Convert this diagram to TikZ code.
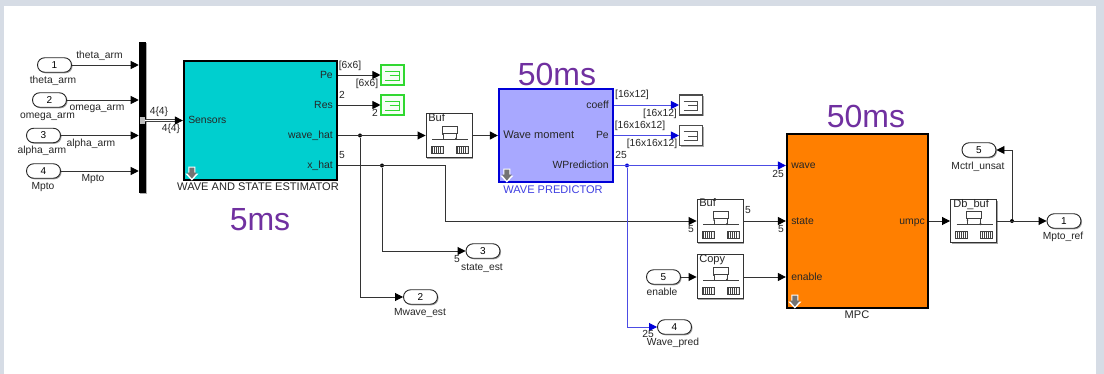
\documentclass[tikz,border=0pt]{standalone}
\usepackage{fontspec}
\setmainfont{Liberation Sans}
\usepackage{xcolor}
\usetikzlibrary{arrows.meta,calc,shadows}
\definecolor{pagegrey}{HTML}{D6DCE5}
\definecolor{estcyan}{HTML}{00CFCF}
\definecolor{predblue}{HTML}{A8A8FF}
\definecolor{mpcorange}{HTML}{FF7F00}
\definecolor{wireblue}{HTML}{0000D8}
\definecolor{scopegreen}{HTML}{30D830}
\definecolor{ratepurple}{HTML}{7030A0}
\def\px{0.75pt}
\tikzset{
  sig/.style={draw=black!80,line width=0.7pt,-{Triangle[length=6pt,width=6pt,black]}},
  wire/.style={draw=black!80,line width=0.7pt},
  bluesig/.style={draw=wireblue!70,line width=0.7pt,-{Triangle[length=6pt,width=6pt,wireblue]}},
  dotnode/.style={circle,fill=black,inner sep=0pt,minimum size=3pt},
  bluedot/.style={circle,fill=wireblue,inner sep=0pt,minimum size=3pt},
  pill/.style={draw=black!85,fill=white,rounded corners=5.4pt,line width=0.7pt,minimum width=34*\px,minimum height=14.5*\px,
    inner sep=0pt,font=\fontsize{7.5}{8}\selectfont,drop shadow={shadow xshift=0.8pt,shadow yshift=-0.8pt,fill=black!45,opacity=0.8}},
  subsys/.style={line width=1.7pt,inner sep=0pt,drop shadow={shadow xshift=1pt,shadow yshift=-1pt,fill=black!40,opacity=0.8}},
  bufbox/.style={draw=black!80,fill=white,line width=0.7pt,inner sep=0pt,minimum width=46*\px,minimum height=43.5*\px,
    drop shadow={shadow xshift=1pt,shadow yshift=-1pt,fill=black!45,opacity=0.8}},
  scopebox/.style={fill=white,line width=0.8pt,inner sep=0pt,minimum width=23*\px,minimum height=20*\px,
    drop shadow={shadow xshift=1pt,shadow yshift=-1pt,fill=black!40,opacity=0.8}},
  txt/.style={inner sep=0pt,text=black!85,text height=7pt,text depth=2pt,font=\fontsize{7.7}{9}\selectfont},
  porttxt/.style={txt,font=\fontsize{7.8}{9}\selectfont},
  titletxt/.style={txt,font=\fontsize{8.3}{9}\selectfont},
  ratetxt/.style={inner sep=0pt,text=ratepurple,font=\fontsize{24}{26}\selectfont},
}
% inside of a buffer block, around the centre of its node
\newcommand{\bufinner}[1]{%
  \begin{scope}[shift={(#1.center)}]
    \draw[black!75,line width=0.6pt] (-7,-9.5) rectangle (8,-2.5);
    \draw[black!75,line width=0.6pt] (-17,3.5) -- (19,3.5);
    \draw[black!75,line width=0.5pt,-{Latex[length=1.5pt,width=1.5pt]}] (-6,3.5) -- (-6,-2.5);
    \draw[black!75,line width=0.5pt,-{Latex[length=1.5pt,width=1.5pt]}] (7,-2.5) -- (7,4.5);
    \draw[black!75,line width=0.6pt] (-18,10.5) rectangle (-6,17.5);
    \draw[black!75,line width=0.6pt] (7,10.5) rectangle (19,17.5);
    \draw[black!75,line width=5pt,dash pattern=on 0.7pt off 0.8pt] (-17,14) -- (-7,14);
    \draw[black!75,line width=5pt,dash pattern=on 0.7pt off 0.8pt] (8,14) -- (18,14);
  \end{scope}}
% the sign inside a scope block
\newcommand{\scopeinner}[2]{%
  \begin{scope}[shift={(#1.center)}]
    \draw[#2,line width=0.7pt] (-7.5,-4) -- (6.5,-4) -- (6.5,5) -- (-7.5,5);
    \draw[#2,line width=0.7pt] (-3,0.5) -- (6.5,0.5);
  \end{scope}}
% grey look-under arrow in the lower left corner of a subsystem
\newcommand{\lookunder}[1]{%
  \begin{scope}[shift={(#1.south west)}]
    \fill[white] (2.5,-7.5) -- (5.5,-7.5) -- (5.5,-14.5) -- (12.5,-14.5) -- (12.5,-7.5) -- (15.5,-7.5) -- (9,-0.5) -- cycle;
    \fill[black!55] (4,-8.5) -- (6.5,-8.5) -- (6.5,-13.5) -- (11.5,-13.5) -- (11.5,-8.5) -- (14,-8.5) -- (9,-2.5) -- cycle;
  \end{scope}}

\begin{document}
\begin{tikzpicture}[x=0.75pt,y=-0.75pt]
  % page and white panel
  \fill[pagegrey] (0,0) rectangle (1104,374);
  \fill[white] (4,6) rectangle (1096,374);

  % input ports
  \node[pill] (in1) at (54.5,65) {1};
  \node[pill] (in2) at (49.5,100) {2};
  \node[pill] (in3) at (43.5,135.5) {3};
  \node[pill] (in4) at (43.5,171) {4};
  \node[txt] (in1_name) at (53,80) {theta\_arm};
  \node[txt] (in2_name) at (47.5,115) {omega\_arm};
  \node[txt] (in3_name) at (42,150) {alpha\_arm};
  \node[txt] (in4_name) at (43,186) {Mpto};

  % bus creator
  \node[fill=black,inner sep=0pt,minimum width=7*\px,minimum height=151*\px,
    drop shadow={shadow xshift=0.8pt,shadow yshift=-0.8pt,fill=black!40,opacity=0.8}] (mux) at (142.5,117.5) {};
  \node[fill=black!25,inner sep=0pt,minimum width=5*\px,minimum height=7*\px] (mux_out) at (142.5,120.5) {};

  % estimator
  \node[subsys,draw=black,fill=estcyan,minimum width=153*\px,minimum height=119*\px] (est) at (260.5,120.5) {};
  \lookunder{est}
  \node[porttxt,anchor=west] (est_sensors) at (188,120.5) {Sensors};
  \node[porttxt,anchor=east] (est_pe) at (333,75) {Pe};
  \node[porttxt,anchor=east] (est_res) at (333,105) {Res};
  \node[porttxt,anchor=east] (est_wave) at (333,135.5) {wave\_hat};
  \node[porttxt,anchor=east] (est_x) at (333,165.5) {x\_hat};
  \node[titletxt] (est_name) at (258,187) {WAVE AND STATE ESTIMATOR};
  \node[ratetxt] (rate_est) at (260,220) {5ms};

  % estimator scopes
  \node[scopebox,draw=scopegreen,fill=green!4] (scope_pe) at (392.5,75) {};
  \node[scopebox,draw=scopegreen,fill=green!4] (scope_res) at (392.5,105) {};
  \scopeinner{scope_pe}{scopegreen}
  \scopeinner{scope_res}{scopegreen}

  % buffers
  \node[bufbox] (buf_wave) at (449,135.5) {};
  \node[bufbox] (buf_state) at (720,221) {};
  \node[bufbox] (buf_copy) at (720,276.5) {};
  \node[bufbox] (buf_db) at (973.5,221) {};
  \bufinner{buf_wave}
  \bufinner{buf_state}
  \bufinner{buf_copy}
  \bufinner{buf_db}
  \node[titletxt,anchor=west] (buf_wave_name) at (428,118.5) {Buf};
  \node[titletxt,anchor=west] (buf_state_name) at (699,203.5) {Buf};
  \node[titletxt,anchor=west] (buf_copy_name) at (699,259.5) {Copy};
  \node[titletxt,anchor=west] (buf_db_name) at (953,204) {Db\_buf};

  % predictor
  \node[subsys,draw=wireblue,fill=predblue,minimum width=114*\px,minimum height=93*\px] (pred) at (556,135.5) {};
  \lookunder{pred}
  \node[titletxt,anchor=west] (pred_in) at (503,135.5) {Wave moment};
  \node[porttxt,anchor=east] (pred_coeff) at (609,105) {coeff};
  \node[porttxt,anchor=east] (pred_pe) at (609,135.5) {Pe};
  \node[porttxt,anchor=east] (pred_w) at (609,165.5) {WPrediction};
  \node[titletxt,text=wireblue!75] (pred_name) at (553,190) {WAVE PREDICTOR};
  \node[ratetxt] (rate_pred) at (557,74) {50ms};

  % predictor scopes
  \node[scopebox,draw=black!70,fill=white] (scope_coeff) at (691,105) {};
  \node[scopebox,draw=black!70,fill=white] (scope_cov) at (691,135.5) {};
  \scopeinner{scope_coeff}{black!70}
  \scopeinner{scope_cov}{black!70}

  % mpc
  \node[subsys,draw=black,fill=mpcorange,minimum width=141*\px,minimum height=174*\px] (mpc) at (857.5,221) {};
  \lookunder{mpc}
  \node[porttxt,anchor=west] (mpc_wave) at (791,165.5) {wave};
  \node[porttxt,anchor=west] (mpc_state) at (791,221) {state};
  \node[porttxt,anchor=west] (mpc_enable) at (791,277) {enable};
  \node[porttxt,anchor=east] (mpc_u) at (925,221) {umpc};
  \node[titletxt] (mpc_name) at (857,315) {MPC};
  \node[ratetxt] (rate_mpc) at (866,116) {50ms};

  % output ports and the enable port
  \node[pill] (out_mwave) at (420.5,297) {2};
  \node[pill] (out_state) at (483,251) {3};
  \node[pill] (out_pred) at (674.5,327) {4};
  \node[pill] (in_enable) at (663.5,277) {5};
  \node[pill] (out_unsat) at (979,150) {5};
  \node[pill] (out_ref) at (1064,221) {1};
  \node[txt] (out_mwave_name) at (420,312) {Mwave\_est};
  \node[txt] (out_state_name) at (482,267) {state\_est};
  \node[txt] (out_pred_name) at (673,342) {Wave\_pred};
  \node[txt] (in_enable_name) at (662,292) {enable};
  \node[txt] (out_unsat_name) at (978,166) {Mctrl\_unsat};
  \node[txt] (out_ref_name) at (1063,236) {Mpto\_ref};

  % branch points
  \node[dotnode] (j_wave) at (360,135.5) {};
  \node[dotnode] (j_x) at (382,165.5) {};
  \node[bluedot] (j_pred) at (627,165.5) {};
  \node[dotnode] (j_ref) at (1012,221) {};
  \coordinate (x_turn) at (445,165.5);

  % wires, inputs
  \draw[sig] (in1.east) -- (in1 -| mux.west);
  \draw[sig] (in2.east) -- (in2 -| mux.west);
  \draw[sig] (in3.east) -- (in3 -| mux.west);
  \draw[sig] (in4.east) -- (in4 -| mux.west);
  \draw[black!75,double=white,double distance=1pt,line width=0.7pt,shorten >=5pt] (mux_out.east) -- (est.west |- mux_out);
  \draw[sig] ($(est.west |- mux_out)+(-8,0)$) -- (est.west |- mux_out);

  % wires, estimator
  \draw[sig] (est.east |- est_pe) -- (scope_pe.west);
  \draw[sig] (est.east |- est_res) -- (scope_res.west);
  \draw[sig] (est.east |- est_wave) -- (buf_wave.west);
  \draw[wire] (est.east |- est_x) -- (x_turn);
  \draw[sig] (x_turn) |- (buf_state.west);
  \draw[sig] (j_wave) |- (out_mwave.west);
  \draw[sig] (j_x) |- (out_state.west);
  \draw[sig] (buf_wave.east) -- (pred.west |- pred_in);

  % wires, predictor
  \draw[bluesig] (pred.east |- pred_coeff) -- (scope_coeff.west);
  \draw[bluesig] (pred.east |- pred_pe) -- (scope_cov.west);
  \draw[bluesig] (pred.east |- pred_w) -- (mpc.west |- mpc_wave);
  \draw[bluesig] (j_pred) |- (out_pred.west);

  % wires, mpc
  \draw[sig] (buf_state.east) -- (mpc.west |- mpc_state);
  \draw[sig] (in_enable.east) -- (in_enable -| buf_copy.west);
  \draw[sig] (buf_copy.east |- in_enable) -- (mpc.west |- mpc_enable);
  \draw[sig] (mpc.east |- mpc_u) -- (buf_db.west);
  \draw[sig] (buf_db.east) -- (out_ref.west);
  \draw[sig] (j_ref) |- (out_unsat.east);

  % signal names and dimensions
  \node[txt] (sig_theta) at (99.5,55) {theta\_arm};
  \node[txt] (sig_omega) at (97,107) {omega\_arm};
  \node[txt] (sig_alpha) at (91,143) {alpha\_arm};
  \node[txt] (sig_mpto) at (93,178) {Mpto};
  \node[txt] (dim_bus_a) at (159,111) {4\{4\}};
  \node[txt] (dim_bus_b) at (171,128) {4\{4\}};
  \node[txt] (dim_pe_a) at (350,65) {[6x6]};
  \node[txt] (dim_pe_b) at (367,83) {[6x6]};
  \node[txt] (dim_res_a) at (342,95) {2};
  \node[txt] (dim_res_b) at (375,113) {2};
  \node[txt] (dim_x) at (342,155) {5};
  \node[txt] (dim_state_est) at (457,259) {5};
  \node[txt] (dim_coeff_a) at (632,94) {[16x12]};
  \node[txt] (dim_coeff_b) at (660,113) {[16x12]};
  \node[txt] (dim_cov_a) at (640,125) {[16x16x12]};
  \node[txt] (dim_cov_b) at (652,143) {[16x16x12]};
  \node[txt] (dim_w) at (621,155) {25};
  \node[txt] (dim_w_pred) at (648,334) {25};
  \node[txt] (dim_buf_in) at (691,229) {5};
  \node[txt] (dim_buf_out) at (748,210) {5};
  \node[txt] (dim_mpc_wave) at (778,174) {25};
  \node[txt] (dim_mpc_state) at (781,229) {5};
\end{tikzpicture}
\end{document}
